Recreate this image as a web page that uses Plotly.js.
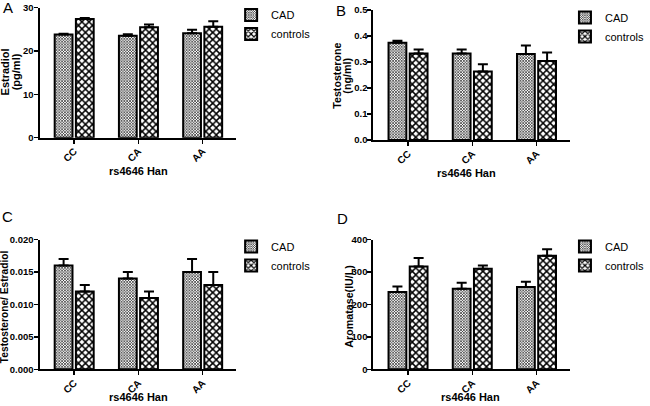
<!DOCTYPE html>
<html>
<head>
<meta charset="utf-8">
<script src="https://cdn.plot.ly/plotly-3.0.1.min.js"></script>
<style>html,body{margin:0;padding:0;background:#fff;}#chart{width:650px;height:406px;}</style>
</head>
<body>
<div id="chart"></div>
<script>
// ---- data ----
const genotypes = ['CC', 'CA', 'AA'];
const seriesNames = ['CAD', 'controls'];

const estradiolCAD = [23.8, 23.5, 24.1];
const estradiolCADErr = [0.2, 0.35, 0.8];
const estradiolCtrl = [27.4, 25.5, 25.6];
const estradiolCtrlErr = [0.25, 0.6, 1.3];

const testoCAD = [0.374, 0.333, 0.331];
const testoCADErr = [0.008, 0.015, 0.032];
const testoCtrl = [0.333, 0.263, 0.304];
const testoCtrlErr = [0.015, 0.028, 0.033];

const ratioCAD = [0.016, 0.014, 0.015];
const ratioCADErr = [0.001, 0.001, 0.002];
const ratioCtrl = [0.012, 0.011, 0.013];
const ratioCtrlErr = [0.001, 0.001, 0.002];

const aromCAD = [238, 248, 254];
const aromCADErr = [17, 19, 16];
const aromCtrl = [317, 310, 350];
const aromCtrlErr = [26, 10, 20];

const panelLetters = ['A', 'B', 'C', 'D'];
const yTitleLines = [['Estradiol', '(pg/ml)'], ['Testosterone', '(ng/ml)'], ['Testosterone/ Estradiol'], ['Aromatase(IU/L)']];
const xTitle = 'rs4646 Han';

// ---- build ----
const FONT = 'Liberation Sans, Arial, sans-serif';
const W = 650, H = 406;
const zeros = [0, 0, 0];

const patCAD = {shape: 'x', size: 2, solidity: 0.5, fgcolor: '#000', bgcolor: '#fff', fillmode: 'replace'};
const patCtrl = {shape: 'x', size: 5, solidity: 0.5, fgcolor: '#000', bgcolor: '#fff', fillmode: 'replace'};

function bar(name, y, err, pat, ax, legendId) {
  return {
    type: 'bar', name: name, x: genotypes, y: y,
    xaxis: 'x' + (ax === 1 ? '' : ax), yaxis: 'y' + (ax === 1 ? '' : ax),
    legend: legendId,
    marker: {color: '#fff', pattern: pat, line: {color: '#000', width: 2}},
    error_y: {type: 'data', array: err, arrayminus: zeros, symmetric: false, color: '#000', thickness: 2, width: 5},
    hoverinfo: 'skip'
  };
}

const panels = [
  {cad: estradiolCAD, cadE: estradiolCADErr, ctl: estradiolCtrl, ctlE: estradiolCtrlErr, range: [0, 30], dtick: 10, fmt: 'd'},
  {cad: testoCAD, cadE: testoCADErr, ctl: testoCtrl, ctlE: testoCtrlErr, range: [0, 0.5], dtick: 0.1, fmt: '.1f'},
  {cad: ratioCAD, cadE: ratioCADErr, ctl: ratioCtrl, ctlE: ratioCtrlErr, range: [0, 0.02], dtick: 0.005, fmt: '.3f'},
  {cad: aromCAD, cadE: aromCADErr, ctl: aromCtrl, ctlE: aromCtrlErr, range: [0, 400], dtick: 100, fmt: 'd'}
];

// pixel boxes [left, right, top, bottom]
const boxes = [[40, 239, 7.7, 137.7], [378, 577, 10, 140], [40, 239, 239.5, 369.3], [378, 577, 239.5, 369.3]];
const legendPos = [[234, 0.5], [572, 3], [234, 232], [572, 232]];
const letterPos = [[8, 7.5], [345, 10.5], [7.5, 216.5], [346.5, 218]];
const yTitleX = [[5.5, 16.5], [341, 351], [4.5], [353]];
const yTitleY = [72, 76, 306.7, 306];
const yTitleSize = [11, 10.7, 10.2, 10.7];
const xTitlePos = [[140, 171], [472.5, 173], [140, 396.5], [476.7, 396.5]];

const data = [];
const layout = {
  width: W, height: H, margin: {l: 0, r: 0, t: 0, b: 0},
  paper_bgcolor: '#fff', plot_bgcolor: '#fff',
  font: {family: FONT, color: '#000', size: 10},
  barmode: 'group', bargap: 0.34, bargroupgap: 0.16,
  annotations: []
};

panels.forEach((p, i) => {
  const ax = i + 1;
  const legId = i === 0 ? 'legend' : 'legend' + ax;
  data.push(bar(seriesNames[0], p.cad, p.cadE, patCAD, ax, legId));
  data.push(bar(seriesNames[1], p.ctl, p.ctlE, patCtrl, ax, legId));
  const b = boxes[i];
  const xk = 'xaxis' + (ax === 1 ? '' : ax);
  const yk = 'yaxis' + (ax === 1 ? '' : ax);
  layout[xk] = {
    domain: [b[0] / W, b[1] / W], anchor: 'y' + (ax === 1 ? '' : ax),
    range: [-0.54, 2.52], showline: true, linecolor: '#000', linewidth: 2,
    ticks: 'outside', ticklen: 4, tickwidth: 1.5, tickcolor: '#000',
    tickangle: -45, tickfont: {family: FONT, size: 10, weight: 'bold'},
    ticklabelstandoff: -2,
    showgrid: false, zeroline: false, fixedrange: true
  };
  layout[yk] = {
    domain: [1 - b[3] / H, 1 - b[2] / H], anchor: 'x' + (ax === 1 ? '' : ax),
    range: p.range, dtick: p.dtick, tick0: 0, tickformat: p.fmt,
    showline: true, linecolor: '#000', linewidth: 2,
    ticks: 'outside', ticklen: 4, tickwidth: 1.5, tickcolor: '#000',
    tickfont: {family: FONT, size: 9.5, weight: 'bold'},
    ticklabelstandoff: -2,
    showgrid: false, zeroline: false, fixedrange: true
  };
  layout[legId] = {
    x: legendPos[i][0] / W, y: 1 - legendPos[i][1] / H, xanchor: 'left', yanchor: 'top',
    xref: 'paper', yref: 'paper', bgcolor: 'rgba(0,0,0,0)',
    font: {family: FONT, size: 11, color: '#000'}, tracegroupgap: 0, itemclick: false
  };
  layout.annotations.push({
    text: panelLetters[i], xref: 'paper', yref: 'paper', showarrow: false,
    x: letterPos[i][0] / W, y: 1 - letterPos[i][1] / H, xanchor: 'center', yanchor: 'middle',
    font: {family: FONT, size: 15, color: '#000'}
  });
  yTitleLines[i].forEach((line, j) => {
    layout.annotations.push({
      text: '<b>' + line + '</b>', xref: 'paper', yref: 'paper', showarrow: false,
      x: yTitleX[i][j] / W, y: 1 - yTitleY[i] / H, xanchor: 'center', yanchor: 'middle',
      textangle: -90, font: {family: FONT, size: yTitleSize[i], color: '#000'}
    });
  });
  layout.annotations.push({
    text: '<b>' + xTitle + '</b>', xref: 'paper', yref: 'paper', showarrow: false,
    x: xTitlePos[i][0] / W, y: 1 - xTitlePos[i][1] / H, xanchor: 'center', yanchor: 'middle',
    font: {family: FONT, size: 11, color: '#000'}
  });
});

Plotly.newPlot('chart', data, layout, {displayModeBar: false, staticPlot: true});
</script>
</body>
</html>
